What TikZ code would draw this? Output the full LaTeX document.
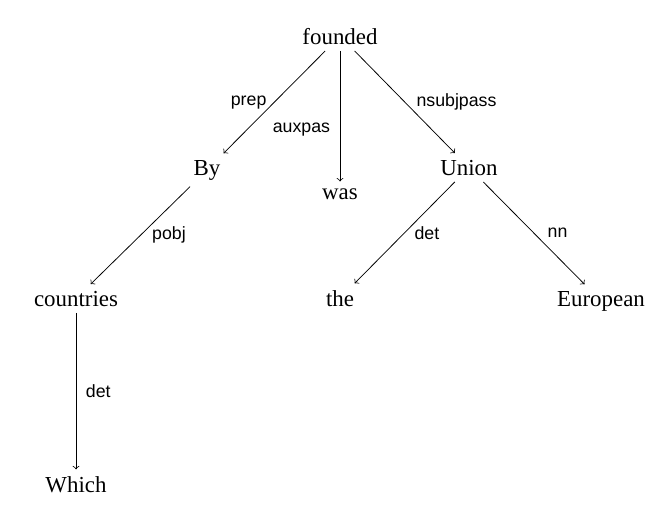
\documentclass[tikz,border=0pt]{standalone}
\usepackage{fontspec}
\setmainfont{Liberation Serif}
\newfontfamily\lblfont{Liberation Sans}
\usepackage{tikz}
\usetikzlibrary{positioning}

\begin{document}
\begin{tikzpicture}[x=0.01842cm, y=-0.01842cm, arrow/.style = {->}]
		\tikzset{word/.style={anchor=base,font=\fontsize{12}{14}\selectfont}}
		\tikzset{rel/.style={font=\lblfont\fontsize{9.3}{11}\selectfont,inner sep=2pt}}

		\useasboundingbox (0,0) rectangle (672,514);

		% words
		\node[word] (founded) at (340,44) {founded};

		\node[word] (by) at (207,175) {By};
		\node[word] (was) at (340,199) {was};
		\node[word] (union) at (469,175) {Union};

		\node[word] (countries) at (76,306) {countries};
		\node[word] (the) at (340,306) {the};
		\node[word] (european) at (601,306) {European};

		\node[word] (which) at (76,492) {Which};

		% Arrows
		\draw [arrow] (founded) -- (by) node [rel,midway,left=2pt] {prep};
		\draw [arrow] (founded) -- (was) node [rel,pos=0.6,left=3pt] {auxpas};
		\draw [arrow] (founded) -- (union) node [rel,midway,right=4pt] {nsubjpass};

		\draw [arrow] (by) -- (countries) node [rel,midway,right=4pt] {pobj};
		\draw [arrow] (union) -- (the) node [rel,midway,right=3pt] {det};
		\draw [arrow] (union) -- (european) node [rel,midway,right=5pt] {nn};

		\draw [arrow] (countries) -- (which) node [rel,midway,right=3pt] {det};

	\end{tikzpicture}
\end{document}
